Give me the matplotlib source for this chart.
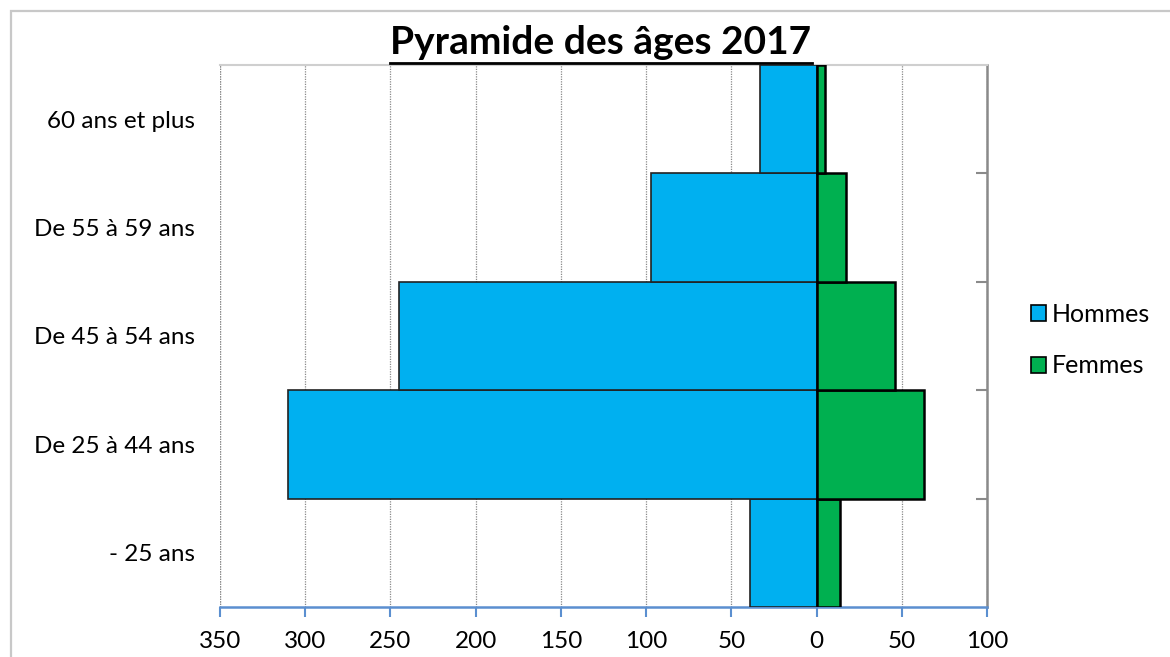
import matplotlib
matplotlib.use("Agg")
import matplotlib.pyplot as plt
from matplotlib.patches import Patch, Rectangle
from matplotlib.lines import Line2D
from matplotlib.ticker import FuncFormatter

# data
categories = ["- 25 ans", "De 25 à 44 ans", "De 45 à 54 ans", "De 55 à 59 ans", "60 ans et plus"]
hommes = [39, 310, 245, 97, 33]
femmes = [14, 63, 46, 17, 5]
x_ticks = [-350, -300, -250, -200, -150, -100, -50, 0, 50, 100]

plt.rcParams['font.family'] = ['Lato', 'DejaVu Sans']

fig = plt.figure(figsize=(11.7, 6.57), dpi=100)
ax = fig.add_axes([220 / 1170, 1 - 607 / 657, (987 - 220) / 1170, (607 - 65) / 657])

y = list(range(len(categories)))
ax.barh(y, [-h for h in hommes], height=1.0, color="#00B0F0",
        edgecolor="#222222", linewidth=1.2, label="Hommes", zorder=3)
ax.barh(y, femmes, height=1.0, color="#00B050",
        edgecolor="black", linewidth=1.8, label="Femmes", zorder=3)

ax.set_xlim(-350, 100)
ax.set_ylim(-0.5, len(categories) - 0.5)
ax.set_xticks(x_ticks)
ax.xaxis.set_major_formatter(FuncFormatter(lambda v, p: f"{abs(int(v))}"))
ax.set_yticks(y)
ax.set_yticklabels(categories)
ax.set_yticks([i + 0.5 for i in y[:-1]], minor=True)

ax.grid(axis="x", linestyle=(0, (1, 1)), color="#8a8a8a", linewidth=0.9, zorder=0)

ax.tick_params(axis="x", colors="#5B8FD0", length=7, width=1.5, labelsize=17.5,
               labelcolor="black", pad=10)
ax.tick_params(axis="y", which="major", length=0, labelsize=17.5, pad=18)
ax.tick_params(axis="y", which="minor", left=False, right=True, direction="in",
               length=8, width=1.5, color="#8a8a8a")

ax.spines["left"].set_visible(False)
ax.spines["bottom"].set_color("#5B8FD0")
ax.spines["bottom"].set_linewidth(1.8)
ax.spines["right"].set_color("#8a8a8a")
ax.spines["right"].set_linewidth(1.8)
ax.spines["top"].set_color("#cfcfcf")
ax.spines["top"].set_linewidth(1.5)

# left edge dotted like the grid
ax.axvline(-350, linestyle=(0, (1, 1)), color="#8a8a8a", linewidth=0.9)

handles = [Patch(facecolor="#00B0F0", edgecolor="black", linewidth=1.2, label="Hommes"),
           Patch(facecolor="#00B050", edgecolor="black", linewidth=1.2, label="Femmes")]
fig.legend(handles=handles, loc="center left", bbox_to_anchor=(1031 / 1170, 1 - 340 / 657),
           frameon=False, fontsize=18, handlelength=0.6, handleheight=0.6,
           handletextpad=0.25, labelspacing=1.15, borderpad=0, borderaxespad=0)

title = fig.text(601 / 1170, 1 - 42 / 657, "Pyramide des âges 2017", ha="center",
                 va="center", fontsize=28, fontweight="bold")
fig.canvas.draw()
bb = title.get_window_extent().transformed(fig.transFigure.inverted())
fig.add_artist(Line2D([bb.x0, bb.x1], [1 - 63 / 657, 1 - 63 / 657],
                      transform=fig.transFigure, color="black", linewidth=2))

# chart border
fig.add_artist(Rectangle((11 / 1170, -0.1), 1.2, 1 - 11 / 657 + 0.1, transform=fig.transFigure,
                         fill=False, edgecolor="#c8c8c8", linewidth=1.6))

fig.savefig("out.png", dpi=100)
